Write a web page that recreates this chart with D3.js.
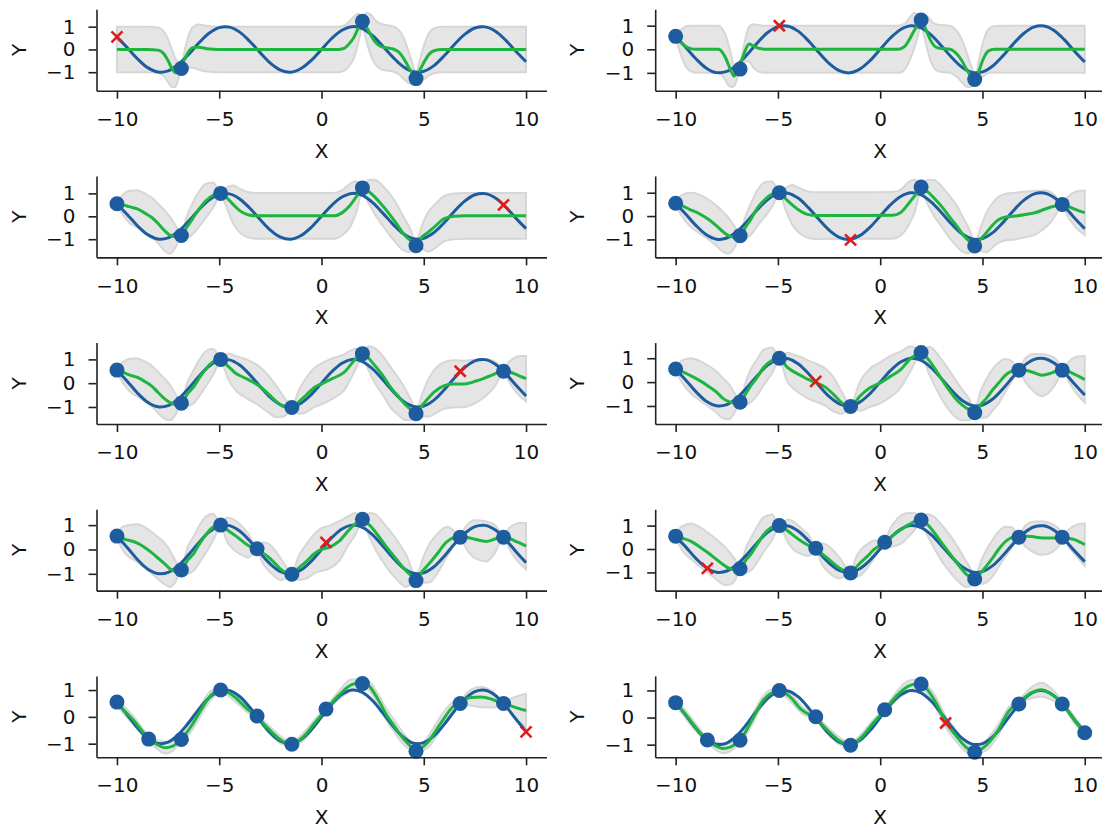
<!DOCTYPE html>
<html>
<head>
<meta charset="utf-8">
<script src="https://cdn.jsdelivr.net/npm/d3@7"></script>
<style>
  body { margin: 0; background: #fff; }
  svg { display: block; }
  text { font-family: "DejaVu Sans", sans-serif; fill: #111; }
</style>
</head>
<body>
<svg id="chart" width="1102" height="830"></svg>
<script>
// true function, read every 0.5 along x
const trueX = [-10,-9.5,-9,-8.5,-8,-7.5,-7,-6.5,-6,-5.5,-5,-4.5,-4,-3.5,-3,-2.5,-2,-1.5,-1,-0.5,0,
               0.5,1,1.5,2,2.5,3,3.5,4,4.5,5,5.5,6,6.5,7,7.5,8,8.5,9,9.5,10];
const trueY = [0.54,0.08,-0.41,-0.80,-0.99,-0.94,-0.66,-0.22,0.28,0.71,0.96,0.98,0.76,0.35,-0.14,-0.60,-0.91,-1.00,-0.84,-0.48,0.00,
               0.48,0.84,1.00,0.91,0.60,0.14,-0.35,-0.76,-0.98,-0.96,-0.71,-0.28,0.22,0.66,0.94,0.99,0.80,0.41,-0.08,-0.54];

// observations in the order they were taken (first three are the start set)
const obsX = [-6.85, 2.0, 4.62, -10, -4.93, 8.9, -1.45, 6.78, -3.15, 0.22, -8.45, 10, 3.2];
const obsY = [-0.84, 1.24, -1.28, 0.55, 1.0, 0.5, -1.02, 0.5, 0.03, 0.29, -0.83, -0.56, -0.2];

const xTicks = [-10, -5, 0, 5, 10];
const yTicks = [-1, 0, 1];

// posterior per step: [x, mean, half width of band]
const gp1 = [[-10,0,1],[-8.5,0,1],[-8,-0.03,0.99],[-7.7,-0.2,0.98],[-7.5,-0.5,0.94],[-7.3,-0.85,0.8],[-7.15,-1.02,0.63],
  [-7,-0.95,0.35],[-6.85,-0.78,0.06],[-6.7,-0.45,0.37],[-6.5,-0.1,0.7],[-6.3,0.08,0.88],[-6,0.1,0.99],[-5.6,0.03,1],
  [-5,0,1],[0.8,0,1],[1.1,0.05,0.99],[1.4,0.3,0.97],[1.6,0.55,0.9],[1.75,0.85,0.72],[1.9,1.1,0.4],[2,1.2,0.06],
  [2.1,1.12,0.4],[2.25,0.9,0.7],[2.4,0.65,0.88],[2.6,0.35,0.96],[2.85,0.15,0.99],[3.2,0.07,1],[3.5,0.02,0.99],
  [3.75,-0.1,0.98],[3.95,-0.3,0.93],[4.15,-0.6,0.8],[4.3,-0.85,0.65],[4.45,-1.05,0.42],[4.55,-1.14,0.2],[4.62,-1.15,0.06],
  [4.75,-1.0,0.33],[4.9,-0.75,0.6],[5.05,-0.5,0.78],[5.25,-0.22,0.93],[5.5,-0.06,0.99],[5.9,0,1],[10,0,1]];

const gp2 = [[-10,0.53,0.06],[-9.85,0.4,0.35],[-9.7,0.25,0.6],[-9.5,0.12,0.85],[-9.3,0.04,0.96],[-9,0,1],[-7.9,0,1],
  [-7.7,-0.15,0.99],[-7.55,-0.38,0.96],[-7.4,-0.7,0.85],[-7.25,-1.0,0.6],[-7.15,-1.14,0.42],[-7,-0.97,0.3],[-6.85,-0.65,0.06],
  [-6.7,-0.3,0.3],[-6.55,0.05,0.55],[-6.4,0.22,0.75],[-6.2,0.14,0.92],[-5.9,0.03,0.99],[-5.5,0,1],[0.9,0,1],
  [1.2,0.12,0.97],[1.45,0.45,0.9],[1.65,0.78,0.76],[1.82,1.0,0.5],[2,1.15,0.06],[2.15,1.0,0.45],[2.3,0.7,0.7],
  [2.45,0.4,0.85],[2.65,0.14,0.95],[2.9,0.04,0.99],[3.4,0,1],[3.75,-0.2,0.97],[4,-0.5,0.9],[4.2,-0.82,0.76],
  [4.4,-1.1,0.5],[4.55,-1.22,0.28],[4.64,-1.24,0.06],[4.8,-1.0,0.4],[4.95,-0.6,0.62],[5.1,-0.3,0.8],[5.3,-0.07,0.93],
  [5.6,0,0.99],[6,0,1],[10,0,1]];

const gp3 = [[-10,0.53,0.06],[-9.7,0.5,0.45],[-9.4,0.42,0.7],[-9,0.32,0.82],[-8.6,0.12,0.85],[-8.3,-0.05,0.86],
  [-8,-0.3,0.86],[-7.7,-0.6,0.88],[-7.4,-0.83,0.8],[-7.15,-0.88,0.5],[-6.85,-0.82,0.06],[-6.6,-0.5,0.45],[-6.3,-0.1,0.68],
  [-6,0.3,0.76],[-5.65,0.68,0.74],[-5.3,0.92,0.55],[-4.93,1.0,0.06],[-4.6,0.78,0.5],[-4.3,0.5,0.85],[-4,0.25,0.95],
  [-3.6,0.07,0.99],[-3.2,0.02,1],[0.6,0.02,1],[1,0.15,0.98],[1.4,0.48,0.95],[1.7,0.85,0.68],[2,1.17,0.06],[2.3,1.08,0.5],
  [2.6,0.85,0.75],[3,0.45,0.87],[3.3,0.12,0.9],[3.65,-0.3,0.87],[4,-0.75,0.74],[4.3,-1.02,0.55],[4.62,-1.17,0.06],
  [4.95,-0.87,0.55],[5.2,-0.7,0.85],[5.55,-0.44,0.95],[6,-0.1,0.99],[6.5,0,1],[7,0.02,1],[10,0.02,1]];

const gp4 = [[-10,0.53,0.06],[-9.7,0.45,0.45],[-9.3,0.28,0.72],[-8.8,0.08,0.83],[-8.4,-0.14,0.85],[-8,-0.42,0.86],
  [-7.7,-0.66,0.86],[-7.4,-0.85,0.76],[-7.15,-0.9,0.5],[-6.85,-0.84,0.06],[-6.6,-0.5,0.45],[-6.3,-0.1,0.68],[-6,0.35,0.76],
  [-5.65,0.7,0.74],[-5.3,0.93,0.55],[-4.93,1.0,0.06],[-4.6,0.72,0.5],[-4.3,0.48,0.85],[-4,0.27,0.95],[-3.6,0.08,0.99],
  [-3.2,0.02,1],[0.6,0.03,1],[1,0.15,0.98],[1.4,0.55,0.92],[1.7,0.88,0.68],[2,1.17,0.06],[2.3,1.05,0.5],[2.6,0.8,0.75],
  [3.05,0.36,0.87],[3.4,-0.05,0.9],[3.75,-0.43,0.87],[4.05,-0.8,0.74],[4.35,-1.07,0.52],[4.62,-1.17,0.06],[4.95,-0.95,0.55],
  [5.2,-0.7,0.85],[5.5,-0.38,0.95],[5.8,-0.15,0.99],[6.1,-0.05,1],[6.6,0,1],[7.1,0.07,0.98],[7.6,0.15,0.93],
  [8,0.28,0.82],[8.4,0.4,0.6],[8.9,0.47,0.06],[9.2,0.4,0.45],[9.5,0.3,0.72],[9.8,0.2,0.88],[10,0.14,0.95]];

const gp5 = [[-10,0.54,0.06],[-9.7,0.45,0.45],[-9.3,0.32,0.72],[-9,0.24,0.8],[-8.6,0.05,0.84],[-8.3,-0.12,0.85],
  [-8,-0.38,0.86],[-7.65,-0.67,0.84],[-7.4,-0.82,0.74],[-7.2,-0.89,0.52],[-6.85,-0.82,0.06],[-6.55,-0.45,0.5],
  [-6.25,-0.15,0.7],[-5.95,0.25,0.76],[-5.65,0.61,0.74],[-5.3,0.9,0.55],[-4.93,0.98,0.06],[-4.55,0.7,0.55],[-4.2,0.42,0.72],
  [-3.8,0.24,0.8],[-3.5,0.11,0.82],[-3,-0.15,0.82],[-2.6,-0.45,0.78],[-2.2,-0.78,0.65],[-1.85,-0.98,0.42],[-1.45,-1.03,0.06],
  [-1.1,-0.78,0.5],[-0.75,-0.5,0.72],[-0.35,-0.18,0.82],[0,-0.03,0.86],[0.4,0.14,0.86],[0.8,0.3,0.82],[1.1,0.45,0.76],
  [1.45,0.8,0.58],[1.7,1.05,0.4],[2,1.2,0.06],[2.3,1.05,0.5],[2.55,0.8,0.7],[3.05,0.26,0.82],[3.4,-0.2,0.85],
  [3.7,-0.5,0.8],[4.1,-0.9,0.65],[4.35,-1.1,0.45],[4.62,-1.2,0.06],[4.95,-0.9,0.5],[5.25,-0.6,0.8],[5.5,-0.38,0.92],
  [6,-0.1,0.98],[6.45,-0.03,0.99],[7,-0.03,0.97],[7.6,0.1,0.9],[8.1,0.26,0.75],[8.5,0.4,0.5],[8.9,0.54,0.06],
  [9.2,0.47,0.45],[9.5,0.37,0.72],[9.8,0.26,0.88],[10,0.19,0.95]];

const gp6 = [[-10,0.54,0.06],[-9.7,0.45,0.45],[-9.25,0.26,0.74],[-8.8,0.05,0.83],[-8.4,-0.17,0.85],[-8,-0.42,0.86],
  [-7.7,-0.67,0.84],[-7.4,-0.82,0.74],[-7.2,-0.87,0.52],[-6.85,-0.81,0.06],[-6.55,-0.45,0.5],[-6.3,-0.12,0.7],
  [-6,0.22,0.76],[-5.7,0.61,0.74],[-5.3,0.9,0.55],[-4.93,0.98,0.06],[-4.55,0.63,0.6],[-4.2,0.42,0.72],[-3.85,0.26,0.78],
  [-3.5,0.1,0.8],[-3.15,-0.02,0.8],[-2.7,-0.2,0.78],[-2.3,-0.5,0.72],[-1.9,-0.85,0.48],[-1.45,-1.03,0.06],
  [-1,-0.6,0.6],[-0.5,-0.24,0.8],[0,-0.03,0.86],[0.5,0.24,0.86],[1,0.52,0.76],[1.5,1.0,0.5],[2,1.22,0.06],
  [2.4,0.9,0.58],[2.9,0.26,0.8],[3.3,-0.25,0.84],[3.6,-0.6,0.8],[4,-0.95,0.65],[4.35,-1.15,0.45],[4.62,-1.2,0.06],
  [4.9,-0.95,0.55],[5.2,-0.67,0.8],[5.5,-0.32,0.86],[5.8,-0.03,0.85],[6.1,0.27,0.7],[6.4,0.45,0.45],[6.78,0.52,0.06],
  [7.1,0.5,0.5],[7.5,0.4,0.78],[7.9,0.29,0.88],[8.3,0.36,0.75],[8.6,0.46,0.5],[8.95,0.52,0.06],[9.25,0.43,0.45],
  [9.5,0.33,0.7],[9.8,0.2,0.88],[10,0.11,0.97]];

const gp7 = [[-10,0.57,0.06],[-9.7,0.45,0.5],[-9,0.26,0.78],[-8.35,-0.1,0.85],[-8,-0.35,0.86],[-7.65,-0.6,0.84],
  [-7.4,-0.8,0.74],[-7.2,-0.89,0.52],[-6.85,-0.82,0.06],[-6.55,-0.45,0.55],[-6.25,-0.17,0.7],[-5.95,0.25,0.76],
  [-5.65,0.61,0.74],[-5.3,0.92,0.55],[-4.93,1.0,0.06],[-4.6,0.8,0.5],[-4.3,0.62,0.62],[-3.95,0.4,0.6],[-3.6,0.17,0.5],
  [-3.15,0,0.06],[-2.85,-0.15,0.45],[-2.6,-0.31,0.55],[-2.3,-0.55,0.55],[-2,-0.81,0.45],[-1.45,-1.0,0.06],
  [-1.1,-0.75,0.5],[-0.75,-0.5,0.7],[-0.35,-0.17,0.8],[0,0,0.88],[0.4,0.1,0.88],[0.85,0.33,0.82],[1.3,0.76,0.6],
  [1.65,1.05,0.45],[2,1.19,0.06],[2.35,1.0,0.5],[2.6,0.76,0.7],[3.1,0.19,0.82],[3.65,-0.39,0.82],[4.15,-0.89,0.65],
  [4.62,-1.17,0.06],[5,-0.82,0.55],[5.3,-0.55,0.8],[5.6,-0.24,0.82],[6.15,0.33,0.6],[6.78,0.54,0.06],[7.1,0.5,0.5],
  [7.5,0.42,0.78],[8.05,0.33,0.82],[8.45,0.42,0.6],[8.9,0.54,0.06],[9.2,0.45,0.45],[9.5,0.33,0.72],[9.8,0.22,0.88],
  [10,0.14,0.95]];

const gp8 = [[-10,0.57,0.06],[-9.7,0.47,0.5],[-9.25,0.33,0.76],[-8.8,0.08,0.84],[-8.4,-0.17,0.85],[-8,-0.45,0.86],
  [-7.56,-0.74,0.8],[-7.3,-0.86,0.65],[-7.1,-0.89,0.45],[-6.85,-0.84,0.06],[-6.55,-0.45,0.55],[-6.3,-0.2,0.7],
  [-6,0.22,0.76],[-5.7,0.61,0.74],[-5.3,0.92,0.55],[-4.93,1.0,0.06],[-4.5,0.76,0.5],[-4.2,0.55,0.6],[-3.85,0.33,0.55],
  [-3.5,0.15,0.45],[-3.15,0.01,0.06],[-2.85,-0.2,0.45],[-2.58,-0.39,0.55],[-2.3,-0.6,0.55],[-2,-0.81,0.45],
  [-1.45,-1.0,0.06],[-1.15,-0.75,0.45],[-0.9,-0.53,0.55],[-0.6,-0.28,0.5],[-0.3,-0.02,0.38],[0.22,0.29,0.06],
  [0.5,0.5,0.4],[0.8,0.7,0.55],[1.1,0.88,0.6],[1.4,1.04,0.5],[1.7,1.18,0.35],[2,1.22,0.06],[2.3,1.05,0.45],
  [2.6,0.75,0.65],[3.1,0.15,0.78],[3.5,-0.3,0.78],[3.8,-0.65,0.72],[4.2,-1.07,0.55],[4.4,-1.2,0.4],[4.62,-1.24,0.06],
  [4.95,-0.98,0.5],[5.2,-0.72,0.7],[5.5,-0.38,0.78],[5.8,0,0.75],[6.1,0.3,0.65],[6.4,0.48,0.45],[6.78,0.57,0.06],
  [7.1,0.55,0.45],[7.4,0.53,0.62],[7.95,0.47,0.72],[8.4,0.47,0.6],[8.7,0.49,0.4],[8.95,0.51,0.06],[9.25,0.45,0.4],
  [9.5,0.4,0.6],[9.8,0.28,0.8],[10,0.19,0.9]];

const gp9 = [[-10,0.53,0.08],[-9.6,0.2,0.15],[-9.2,-0.12,0.15],[-8.8,-0.5,0.13],[-8.45,-0.81,0.08],[-8,-1.05,0.17],
  [-7.65,-1.15,0.22],[-7.3,-1.1,0.18],[-6.85,-0.82,0.08],[-6.6,-0.6,0.15],[-6.25,-0.2,0.2],[-5.9,0.25,0.2],
  [-5.4,0.81,0.17],[-4.93,1.0,0.08],[-4.35,0.81,0.15],[-3.65,0.31,0.13],[-3.15,0,0.08],[-2.6,-0.44,0.14],
  [-1.95,-0.88,0.13],[-1.45,-1.01,0.08],[-0.9,-0.75,0.14],[-0.35,-0.25,0.13],[0.22,0.28,0.08],[0.85,0.81,0.15],
  [1.45,1.19,0.2],[1.9,1.27,0.12],[2,1.26,0.08],[2.3,1.17,0.15],[2.78,0.63,0.2],[3.2,0.05,0.22],[3.5,-0.28,0.22],
  [4.1,-0.9,0.2],[4.62,-1.22,0.08],[5.2,-0.95,0.2],[5.6,-0.5,0.25],[5.95,-0.1,0.25],[6.4,0.36,0.18],[6.78,0.55,0.08],
  [7.3,0.72,0.3],[7.8,0.74,0.38],[8.35,0.65,0.3],[8.9,0.5,0.08],[9.3,0.4,0.3],[9.7,0.3,0.5],[10,0.24,0.62]];

const gp10 = [[-10,0.54,0.08],[-9.6,0.2,0.14],[-9.24,-0.15,0.14],[-8.85,-0.52,0.12],[-8.45,-0.83,0.08],[-8,-1.06,0.15],
  [-7.7,-1.14,0.18],[-7.3,-1.08,0.15],[-6.85,-0.82,0.08],[-6.6,-0.55,0.14],[-6.2,0,0.17],[-5.8,0.55,0.16],
  [-5.4,0.87,0.14],[-4.93,0.98,0.08],[-4.44,0.79,0.14],[-3.85,0.29,0.13],[-3.15,-0.03,0.08],[-2.5,-0.53,0.13],
  [-1.91,-0.9,0.12],[-1.45,-1.0,0.08],[-0.89,-0.71,0.13],[-0.39,-0.25,0.12],[0.22,0.27,0.08],[0.79,0.79,0.15],
  [1.38,1.16,0.2],[1.81,1.25,0.15],[2,1.22,0.08],[2.25,1.08,0.15],[2.73,0.54,0.2],[3.2,-0.15,0.2],[3.75,-0.71,0.2],
  [4.25,-1.13,0.16],[4.62,-1.25,0.08],[5.18,-1.03,0.18],[5.77,-0.46,0.2],[6.28,0.23,0.15],[6.78,0.56,0.08],
  [7.38,0.91,0.2],[7.88,1.03,0.25],[8.39,0.85,0.2],[8.95,0.48,0.08],[9.49,-0.09,0.12],[10,-0.56,0.08]];

const steps = [gp1, gp2, gp3, gp4, gp5, gp6, gp7, gp8, gp9, gp10];

const svg = d3.select("#chart");
const colLeft = [96.5, 655.2], axW = 450, axH = 81.4;
const rowTop = r => 9.3 + r * 166.65;

const blue = "#1d5c9e", green = "#1db53f", red = "#e31a1c";
const fmt = d => d < 0 ? "\u2212" + Math.abs(d) : String(d);
const truth = trueX.map((x, i) => [x, trueY[i]]);

steps.forEach((gp, k) => {
  const col = k % 2, row = Math.floor(k / 2);
  const left = colLeft[col], top = rowTop(row);
  const nObs = 3 + k;
  const seen = obsX.slice(0, nObs).map((x, i) => [x, obsY[i]]);
  const next = [obsX[nObs], obsY[nObs]];

  // autoscale y like matplotlib: data extent + 5%
  const vals = [].concat(
    gp.map(d => d[1] - d[2]), gp.map(d => d[1] + d[2]),
    trueY, seen.map(d => d[1]), [next[1]]);
  const lo = d3.min(vals), hi = d3.max(vals);
  const pad = (hi - lo) * 0.05;

  const x = d3.scaleLinear().domain([-11, 11]).range([left, left + axW]);
  const y = d3.scaleLinear().domain([lo - pad, hi + pad]).range([top + axH, top]);

  const g = svg.append("g");
  const smooth = d3.curveCatmullRom.alpha(0.5);
  const mono = d3.curveMonotoneX;

  g.append("path")
    .datum(gp)
    .attr("d", d3.area().curve(mono)
      .x(d => x(d[0])).y0(d => y(d[1] - d[2])).y1(d => y(d[1] + d[2])))
    .attr("fill", "#e5e5e5")
    .attr("stroke", "#d6d6d6")
    .attr("stroke-width", 2);

  g.append("path")
    .datum(truth)
    .attr("d", d3.line().curve(smooth).x(d => x(d[0])).y(d => y(d[1])))
    .attr("fill", "none").attr("stroke", blue).attr("stroke-width", 3);

  g.append("path")
    .datum(gp)
    .attr("d", d3.line().curve(mono).x(d => x(d[0])).y(d => y(d[1])))
    .attr("fill", "none").attr("stroke", green).attr("stroke-width", 3);

  g.selectAll("circle.obs")
    .data(seen)
    .enter()
    .append("circle")
      .attr("class", "obs")
      .attr("cx", d => x(d[0]))
      .attr("cy", d => y(d[1]))
      .attr("r", 7.5)
      .attr("fill", blue);

  g.append("path")
    .attr("transform", `translate(${x(next[0])},${y(next[1])})`)
    .attr("d", "M-5.5,-5.5L5.5,5.5M-5.5,5.5L5.5,-5.5")
    .attr("stroke", red).attr("stroke-width", 2.6);

  // axes: only left and bottom spines
  const xAxis = g.append("g")
    .attr("transform", `translate(0,${top + axH})`)
    .call(d3.axisBottom(x).tickValues(xTicks).tickFormat(fmt).tickSize(8).tickPadding(13).tickSizeOuter(0));
  const yAxis = g.append("g")
    .attr("transform", `translate(${left},0)`)
    .call(d3.axisLeft(y).tickValues(yTicks).tickFormat(fmt).tickSize(8).tickPadding(13).tickSizeOuter(0));

  [xAxis, yAxis].forEach(a => {
    a.selectAll("path.domain").attr("stroke", "#222").attr("stroke-width", 1.6);
    a.selectAll(".tick line").attr("stroke", "#222").attr("stroke-width", 1.6);
    a.selectAll(".tick text").attr("font-size", 20).attr("font-family", "DejaVu Sans").attr("fill", "#111");
  });

  g.append("text")
    .attr("x", left + axW / 2)
    .attr("y", top + axH + 60)
    .attr("dy", "0.35em")
    .attr("text-anchor", "middle")
    .attr("font-size", 20)
    .text("X");

  g.append("text")
    .attr("transform", `translate(${left - 78},${top + axH / 2}) rotate(-90)`)
    .attr("dy", "0.35em")
    .attr("text-anchor", "middle")
    .attr("font-size", 20)
    .text("Y");
});
</script>
</body>
</html>
